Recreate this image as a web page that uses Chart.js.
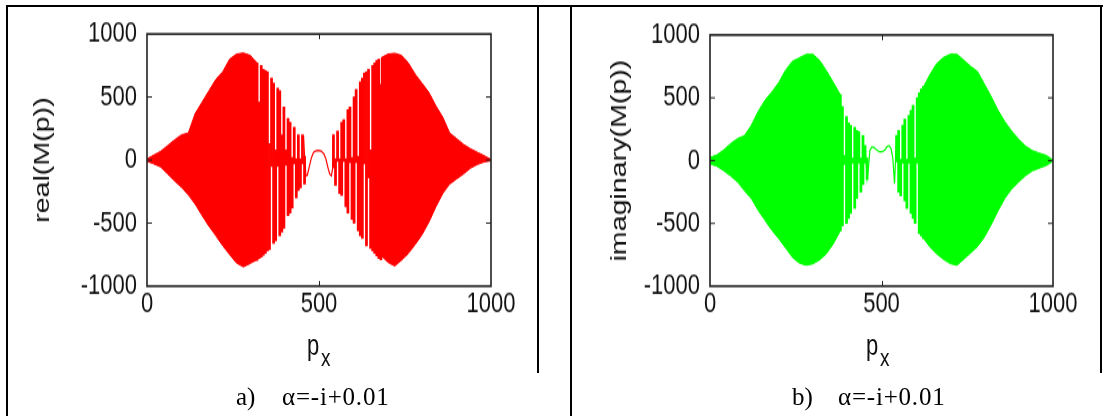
<!DOCTYPE html>
<html>
<head>
<meta charset="utf-8">
<script src="https://cdn.jsdelivr.net/npm/chart.js@4.4.1/dist/chart.umd.min.js"></script>
<style>
  body { margin: 0; background: #fff; width: 1106px; height: 416px; position: relative; overflow: hidden; }
  .ln { position: absolute; background: #000; z-index: 2; }
  canvas { position: absolute; top: 0; transform: scaleY(1.3007); transform-origin: 0 0; }
  .cap { position: absolute; top: 384px; font: 25px "Liberation Serif", serif; line-height: 25px; color: #000; white-space: nowrap; }
  .ax { position: absolute; font-family: "Liberation Sans", Arial, sans-serif; color: #111; line-height: 1; transform: scaleY(1.3); transform-origin: 0 0; }
</style>
</head>
<body>
<canvas id="realChart" width="540" height="286" style="left:0"></canvas>
<canvas id="imagChart" width="528" height="286" style="left:572px"></canvas>

<div class="ln" style="left:6px;top:5px;width:1097px;height:2px"></div>
<div class="ln" style="left:6px;top:5px;width:2px;height:411px"></div>
<div class="ln" style="left:570px;top:5px;width:2px;height:411px"></div>
<div class="ln" style="left:537px;top:5px;width:2px;height:368px"></div>
<div class="ln" style="left:1100px;top:5px;width:2px;height:368px"></div>

<div class="ax" style="left:307px;top:332px;font-size:22px">p</div>
<div class="ax" style="left:321px;top:345px;font-size:19px">x</div>
<div class="ax" style="left:866px;top:332px;font-size:22px">p</div>
<div class="ax" style="left:880px;top:345px;font-size:19px">x</div>

<div class="cap" style="left:236px">a)</div>
<div class="cap" style="left:282px;letter-spacing:0.8px">α=-i+0.01</div>
<div class="cap" style="left:792px">b)</div>
<div class="cap" style="left:838px;letter-spacing:0.8px">α=-i+0.01</div>

<script>
// outline grid (p_x) shared by both panels
const envX = [0, 20, 40, 60, 80, 100, 120, 140, 160, 180, 200, 220, 240, 260, 280, 300, 320, 340, 360, 380,
  400, 420, 440, 460, 480, 500, 520, 540, 560, 580, 600, 620, 640, 660, 680, 700, 720, 740, 760, 780,
  800, 820, 840, 860, 880, 900, 920, 940, 960, 980, 1000];

// a) real(M(p)): outline of the dense part
const realUpper = [10, 40, 70, 115, 160, 200, 215, 370, 460, 550, 640, 700, 800, 840, 850, 830, 770, null, null, null,
  null, null, null, null, null, null, null, null, null, null, null, null, null, null, 810, 840, 847, 830, 770, 680,
  610, 535, 430, 340, 215, 170, 125, 90, 62, 35, 5];
const realLower = [-10, -30, -55, -110, -165, -215, -275, -350, -440, -525, -600, -680, -750, -815, -847, -820, -790, null, null, null,
  null, null, null, null, null, null, null, null, null, null, null, null, null, null, -755, -810, -840, -794, -740, -670,
  -590, -490, -370, -265, -190, -150, -110, -65, -35, -15, -5];
// a) separate swings (peak / trough) where the oscillation thins out
const realBarX = [320, 326, 332, 338, 344, 350, 356, 362, 368, 374, 380, 386, 392, 398, 404, 410, 416, 422, 428, 434, 440, 446, 452, 458,
  542, 548, 554, 560, 566, 572, 578, 584, 590, 596, 602, 608, 614, 620, 626, 632, 638, 644, 650, 656, 662, 668, 674, 680];
const realPeak = [770, 460, 750, 720, 710, 700, 130, 650, 610, 80, 570, 550, 200, 420, 80, 330, 300, 20, 260, 10, 200, 10, 200, 30,
  200, 10, 230, 10, 300, 320, 10, 400, 420, 20, 500, 560, 30, 620, 650, 690, 700, 720, 80, 750, 770, 790, 800, 600];
const realTrough = [-795, -780, -770, -755, -740, -720, -710, -50, -660, -640, -50, -600, -570, -540, -40, -440, -420, -380, -30, -300, -240, -220, -30, -190,
  -60, -200, -10, -265, -280, -10, -370, -420, -20, -470, -500, -20, -560, -600, -620, -30, -680, -140, -700, -720, -740, -760, -780, -790];
// a) slow wiggle in the middle
const realWaveX = [455, 458, 462, 466, 472, 478, 484, 490, 498, 506, 514, 520, 526, 531, 536, 540, 542];
const realWaveY = [195, 30, -125, -120, -50, 20, 60, 72, 76, 72, 50, 10, -60, -110, -125, -60, 200];

// b) imaginary(M(p))
const imagUpper = [25, 45, 85, 135, 175, 198, 280, 390, 480, 545, 620, 720, 790, 818, 845, 847, 797, 714, 622, 525,
  null, null, null, null, null, null, null, null, null, null, null, 575, 680, 770, 820, 847, 847, 800, 750, 710,
  610, 510, 400, 310, 235, 170, 115, 80, 60, 42, 5];
const imagLower = [-25, -45, -80, -122, -170, -240, -300, -395, -475, -555, -620, -695, -770, -815, -833, -822, -790, -740, -661, -560,
  null, null, null, null, null, null, null, null, null, null, null, -610, -685, -740, -785, -820, -833, -785, -735, -685,
  -610, -510, -400, -300, -225, -170, -120, -82, -60, -40, -5];
const imagBarX = [380, 386, 392, 398, 404, 410, 416, 422, 428, 434, 440, 446, 452, 458,
  544, 550, 556, 562, 568, 574, 580, 586, 592, 598, 604, 610, 616, 622];
const imagPeak = [525, 430, 40, 350, 300, 280, 20, 265, 240, 230, 20, 200, 120, 20,
  200, 240, 10, 280, 330, 10, 360, 400, 440, 20, 500, 540, 570, 590];
const imagTrough = [-560, -520, -30, -500, -460, -420, -20, -380, -300, -20, -250, -190, -20, -150,
  -10, -250, -280, -20, -320, -380, -20, -420, -460, -500, -20, -580, -600, -620];
const imagWaveX = [452, 458, 462, 466, 472, 478, 486, 494, 502, 510, 516, 522, 528, 533, 538, 544];
const imagWaveY = [120, -140, -60, 80, 110, 105, 85, 70, 70, 85, 110, 120, 95, 20, -185, 200];

const xTicks = [0, 500, 1000];
const yTicks = [-1000, -500, 0, 500, 1000];

const tickFont = { family: 'Liberation Sans, Arial, sans-serif', size: 22 };

// MATLAB style box with short inward tick marks
const boxPlugin = {
  id: 'box',
  afterDraw(chart) {
    const { ctx, chartArea: a, scales } = chart;
    ctx.save();
    ctx.strokeStyle = '#222';
    ctx.lineWidth = 1.6;
    ctx.strokeRect(a.left, a.top, a.right - a.left, a.bottom - a.top);
    ctx.lineWidth = 1;
    ctx.beginPath();
    yTicks.slice(1, -1).forEach(v => {
      const y = scales.y.getPixelForValue(v);
      ctx.moveTo(a.left, y); ctx.lineTo(a.left + 5, y);
      ctx.moveTo(a.right, y); ctx.lineTo(a.right - 5, y);
    });
    xTicks.slice(1, -1).forEach(v => {
      const x = Math.round(scales.x.getPixelForValue(v)) + 0.5;
      ctx.moveTo(x, a.bottom); ctx.lineTo(x, a.bottom - 4);
      ctx.moveTo(x, a.top); ctx.lineTo(x, a.top + 4);
    });
    ctx.stroke();
    ctx.restore();
  }
};

function pts(xs, ys) {
  return xs.map((x, i) => ({ x: x, y: ys[i] }));
}

function makeChart(id, color, yTitle, upper, lower, barX, peak, trough, waveX, waveY, pad, yWidth) {
  new Chart(document.getElementById(id), {
    type: 'line',
    data: {
      datasets: [
        { data: pts(envX, upper), borderColor: color, borderWidth: 1, fill: false },
        { data: pts(envX, lower), borderColor: color, borderWidth: 1, backgroundColor: color, fill: '-1' },
        { type: 'bar', data: pts(barX, peak), backgroundColor: color, barThickness: 2.1, grouped: false },
        { type: 'bar', data: pts(barX, trough), backgroundColor: color, barThickness: 2.1, grouped: false },
        { data: pts(waveX, waveY), borderColor: color, borderWidth: 1.2, fill: false }
      ]
    },
    options: {
      responsive: false,
      animation: false,
      spanGaps: false,
      elements: { point: { radius: 0 }, line: { tension: 0 } },
      layout: { padding: pad },
      plugins: { legend: { display: false }, tooltip: { enabled: false } },
      scales: {
        x: {
          type: 'linear', min: 0, max: 1000, offset: false,
          afterBuildTicks: s => { s.ticks = xTicks.map(v => ({ value: v })); },
          afterFit: s => { s.height = 40; },
          grid: { display: false, drawTicks: false },
          border: { display: false },
          ticks: { color: '#111', font: tickFont, padding: 1, maxRotation: 0, callback: v => String(v) }
        },
        y: {
          min: -1000, max: 1000,
          afterBuildTicks: s => { s.ticks = yTicks.map(v => ({ value: v })); },
          afterFit: s => { s.width = yWidth; },
          grid: { display: false, drawTicks: false },
          border: { display: false },
          ticks: { color: '#111', font: tickFont, padding: 10, callback: v => String(v) },
          title: { display: true, text: yTitle, color: '#111', font: tickFont, padding: 0 }
        }
      }
    },
    plugins: [boxPlugin]
  });
}

// chart area: 147..491 / 710..1053 across, 34..286 down (canvas is stretched 1.3x vertically)
makeChart('realChart', '#ff0000', 'real(M(p))', realUpper, realLower, realBarX, realPeak, realTrough, realWaveX, realWaveY,
  { left: 29.8, top: 26.1, right: 49, bottom: 26 }, 117.2);
makeChart('imagChart', '#00ff00', 'imaginary(M(p))', imagUpper, imagLower, imagBarX, imagPeak, imagTrough, imagWaveX, imagWaveY,
  { left: 34.8, top: 26.9, right: 47, bottom: 26 }, 103.2);
</script>
</body>
</html>
